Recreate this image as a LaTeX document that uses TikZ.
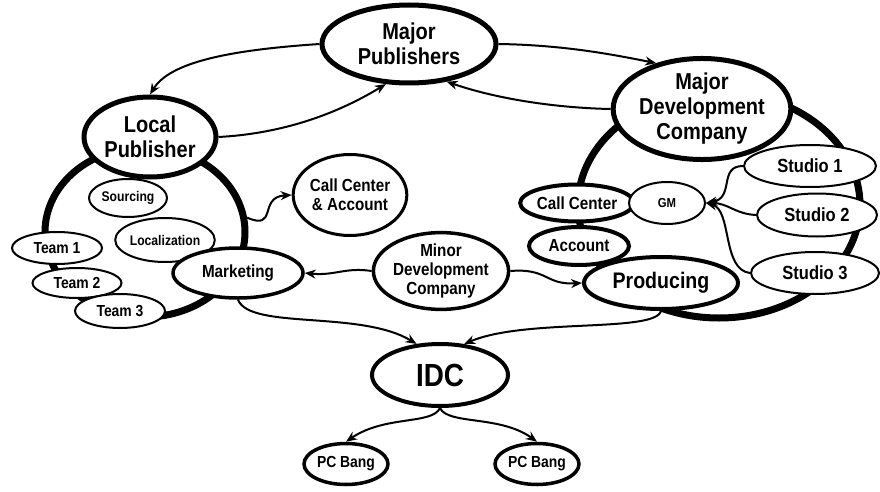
\documentclass[tikz,border=0pt]{standalone}
\usepackage{fontspec}
\setmainfont[FakeStretch=0.87]{Liberation Sans}
\usetikzlibrary{shapes.geometric,arrows.meta}
\tikzset{
  ell/.style={ellipse, draw, fill=white, inner sep=0pt, align=center, font=\bfseries},
  big/.style={ell, line width=5pt, font=\fontsize{23}{25}\selectfont\bfseries},
  mid/.style={ell, line width=3.5pt, font=\fontsize{17.5}{19}\selectfont\bfseries},
  thin/.style={ell, line width=2pt},
  ring/.style={ellipse, draw, line width=7pt, inner sep=0pt},
  conn/.style={line width=2pt, -{Stealth[length=11pt,width=9pt]}},
}
\begin{document}
\begin{tikzpicture}[x=1pt,y=1pt]
\useasboundingbox (0,0) rectangle (880,-492);
% rings
\node[ring, minimum width=200, minimum height=170] (lring) at (145,-232) {};
\node[ring, minimum width=282, minimum height=226] (rring) at (719,-205) {};
% top level
\node[big, minimum width=174, minimum height=78] (mp) at (409,-44) {Major\\Publishers};
\node[big, minimum width=132, minimum height=80] (lp) at (150,-137) {Local\\Publisher};
\node[big, minimum width=170, minimum height=84] (mdc) at (702,-109) {Major\\Development\\Company};
% left group
\node[thin, minimum width=78, minimum height=38, font=\fontsize{14}{16}\selectfont\bfseries] (src) at (128,-198) {Sourcing};
\node[thin, minimum width=84, minimum height=44, font=\fontsize{14}{16}\selectfont\bfseries] (loc) at (165,-240) {Localization};
\node[thin, minimum width=90, minimum height=32, font=\fontsize{16}{18}\selectfont\bfseries] (t1) at (57,-248) {Team 1};
\node[thin, minimum width=89, minimum height=30, font=\fontsize{16}{18}\selectfont\bfseries] (t2) at (77,-283) {Team 2};
\node[thin, minimum width=90, minimum height=34, font=\fontsize{16}{18}\selectfont\bfseries] (t3) at (120,-311) {Team 3};
\node[mid, minimum width=130, minimum height=50] (mkt) at (238,-273) {Marketing};
\node[mid, line width=3pt, minimum width=103, minimum height=81] (cca) at (350,-195) {Call Center\\\& Account};
\node[mid, minimum width=134, minimum height=75] (minor) at (441,-271) {Minor\\Development\\Company};
% right group
\node[mid, line width=4pt, minimum width=100, minimum height=38] (acc) at (579,-246) {Account};
\node[mid, line width=4pt, minimum width=98, minimum height=37] (cc) at (577,-203) {Call Center};
\node[thin, minimum width=76, minimum height=42, font=\fontsize{13}{15}\selectfont\bfseries] (gm) at (667,-203) {GM};
\node[big, line width=4pt, minimum width=154, minimum height=52, font=\fontsize{22.5}{25}\selectfont\bfseries] (prod) at (661,-283) {Producing};
\node[thin, minimum width=132, minimum height=42, font=\fontsize{19}{21}\selectfont\bfseries] (s1) at (810,-166) {Studio 1};
\node[thin, minimum width=120, minimum height=43, font=\fontsize{19}{21}\selectfont\bfseries] (s2) at (817,-215) {Studio 2};
\node[thin, minimum width=128, minimum height=42, font=\fontsize{19}{21}\selectfont\bfseries] (s3) at (815,-273) {Studio 3};
% bottom
\node[big, line width=4pt, minimum width=136, minimum height=62, font=\fontsize{32}{34}\selectfont\bfseries] (idc) at (440,-375) {IDC};
\node[mid, minimum width=84, minimum height=41, font=\fontsize{16}{18}\selectfont\bfseries] (pc1) at (346,-464) {PC Bang};
\node[mid, minimum width=84, minimum height=41, font=\fontsize{16}{18}\selectfont\bfseries] (pc2) at (537,-464) {PC Bang};
% connectors
\draw[conn] (mp.west) .. controls (230,-50) and (170,-62) .. (lp.north);
\draw[conn] (lp.east) .. controls (275,-134) and (330,-118) .. (mp.240);
\draw[conn] (mp.east) .. controls (565,-45) and (615,-55) .. (mdc.135);
\draw[conn] (mdc.west) .. controls (560,-108) and (500,-100) .. (mp.315);
\draw[conn] (lring.8) .. controls (278,-231) and (258,-197) .. (cca.west);
\draw[conn] (minor.west) .. controls (345,-267) and (335,-276) .. (mkt.east);
\draw[conn] (minor.east) .. controls (548,-268) and (545,-285) .. (prod.west);
\draw[conn] (mkt.south) .. controls (250,-330) and (360,-310) .. (idc.127);
\draw[conn] (prod.south) .. controls (655,-333) and (525,-318) .. (idc.52);
\draw[conn] (idc.south) .. controls (432,-425) and (385,-415) .. (pc1.north);
\draw[conn] (idc.south) .. controls (448,-425) and (500,-415) .. (pc2.north);
\draw[conn] (s1.west) .. controls (718,-166) and (735,-198) .. (gm.east);
\draw[conn] (s2.west) .. controls (735,-214) and (728,-203) .. (gm.east);
\draw[conn] (s3.west) .. controls (722,-270) and (732,-210) .. (gm.east);
\end{tikzpicture}
\end{document}
